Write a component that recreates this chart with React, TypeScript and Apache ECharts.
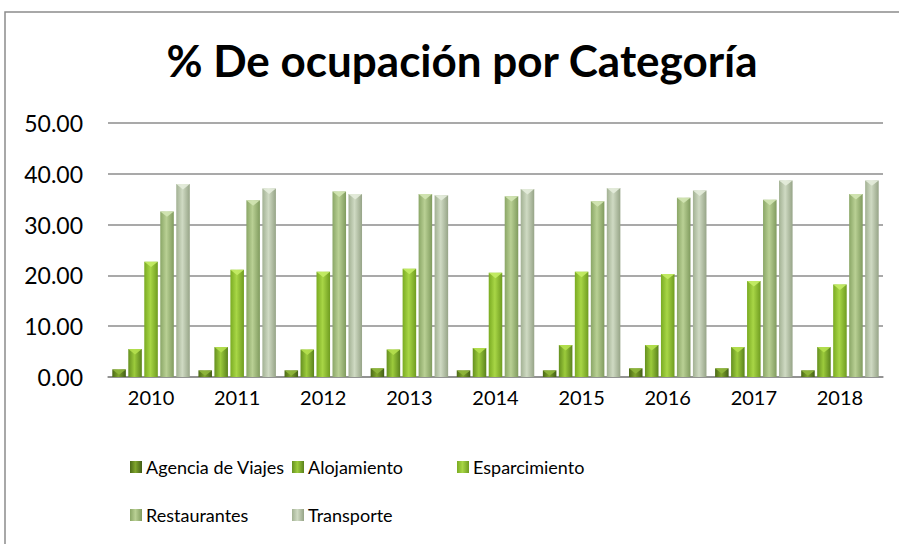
import React, { useEffect, useRef } from "react";
import * as echarts from "echarts";

const categories = ["2010", "2011", "2012", "2013", "2014", "2015", "2016", "2017", "2018"];
const seriesNames = ["Agencia de Viajes", "Alojamiento", "Esparcimiento", "Restaurantes", "Transporte"];
const agencia = [1.5, 1.3, 1.3, 1.7, 1.3, 1.3, 1.7, 1.7, 1.3];
const alojamiento = [5.5, 5.9, 5.4, 5.4, 5.7, 6.3, 6.3, 5.9, 5.9];
const esparcimiento = [22.7, 21.1, 20.7, 21.3, 20.5, 20.7, 20.3, 18.9, 18.2];
const restaurantes = [32.6, 34.8, 36.5, 36.0, 35.6, 34.6, 35.3, 34.9, 36.0];
const transporte = [38.0, 37.1, 36.0, 35.8, 37.0, 37.2, 36.7, 38.7, 38.7];
const seriesData = [agencia, alojamiento, esparcimiento, restaurantes, transporte];

const palette = [
  ["#4a6816", "#7fa52c", "#425e16"],
  ["#65901f", "#9ccb3c", "#5a821c"],
  ["#7aab22", "#a8d646", "#6f9c20"],
  ["#8aa666", "#b9d094", "#809b5e"],
  ["#a2b193", "#cfdac3", "#96a487"],
];
const capColors = ["#8fb63c", "#b5e04f", "#c4ec66", "#d3e6b4", "#e4ecdb"];

const FONT = "Lato, 'Open Sans', sans-serif";
const CAT_GAP = 0.1;
const BAR_GAP = 0.18;

function grad(c: string[]) {
  return new echarts.graphic.LinearGradient(0, 0, 1, 0, [
    { offset: 0, color: c[0] },
    { offset: 0.45, color: c[1] },
    { offset: 1, color: c[2] },
  ]);
}

const legendPos = [
  { left: 130, top: 455 },
  { left: 292, top: 455 },
  { left: 457, top: 455 },
  { left: 130, top: 503 },
  { left: 292, top: 503 },
];

export default function App() {
  const ref = useRef<HTMLDivElement>(null);
  useEffect(() => {
    if (!ref.current) return;
    const chart = echarts.init(ref.current, undefined, { renderer: "svg" });
    const n = seriesNames.length;
    const barSeries = seriesNames.map((name, i) => ({
      name,
      type: "bar",
      data: seriesData[i],
      barGap: BAR_GAP * 100 + "%",
      barCategoryGap: CAT_GAP * 100 + "%",
      itemStyle: { color: grad(palette[i]) },
      z: 2,
    }));
    const capSeries = seriesNames.map((name, i) => ({
      name: "cap-" + name,
      type: "custom",
      silent: true,
      z: 3,
      data: seriesData[i].map((v, k) => [k, v]),
      renderItem: (params: any, api: any) => {
        const idx = api.value(0);
        const v = api.value(1);
        const band = api.size([1, 0])[0];
        const usable = band * (1 - CAT_GAP);
        const w = usable / (n + (n - 1) * BAR_GAP);
        const top = api.coord([idx, v]);
        const x0 = top[0] - usable / 2 + i * w * (1 + BAR_GAP);
        const y = top[1];
        const h = Math.min(w * 0.4, Math.abs(api.coord([idx, 0])[1] - y));
        return {
          type: "polygon",
          shape: { points: [[x0, y], [x0 + w, y], [x0 + w / 2, y + h]] },
          style: { fill: capColors[i], opacity: 0.9 },
        };
      },
    }));
    chart.setOption({
      animation: false,
      backgroundColor: "#ffffff",
      title: {
        text: "% De ocupación por Categoría",
        left: 457,
        textAlign: "center",
        top: 33,
        textStyle: { fontFamily: FONT, fontWeight: "bold", fontSize: 44, color: "#000" },
      },
      graphic: [
        {
          type: "rect",
          shape: { x: 5, y: 12, width: 1000, height: 1000 },
          style: { fill: "none", stroke: "#8c8c8c", lineWidth: 1.5 },
          silent: true,
        },
      ],
      legend: seriesNames.map((nm, i) => ({
        data: [nm],
        left: legendPos[i].left,
        top: legendPos[i].top,
        padding: 0,
        itemWidth: 12,
        itemHeight: 12,
        itemGap: 0,
        icon: "rect",
        selectedMode: false,
        textStyle: { fontFamily: FONT, fontSize: 18, color: "#000", lineHeight: 24, padding: [0, 0, 0, -1] },
      })),
      grid: { left: 108, right: 16, top: 123, bottom: 167, containLabel: false },
      xAxis: {
        type: "category",
        data: categories,
        axisLine: { show: true, lineStyle: { color: "#8c8c8c", width: 1.5 } },
        axisTick: { show: false },
        axisLabel: { fontFamily: FONT, fontSize: 20, color: "#000", margin: 10 },
      },
      yAxis: {
        type: "value",
        min: 0,
        max: 50,
        interval: 10,
        axisLine: { show: false },
        axisTick: { show: false },
        splitLine: { lineStyle: { color: "#8c8c8c", width: 1.5 } },
        axisLabel: {
          fontFamily: FONT,
          fontSize: 23,
          color: "#000",
          margin: 25,
          formatter: (v: number) => v.toFixed(2),
        },
      },
      series: [...barSeries, ...capSeries],
    });
    return () => chart.dispose();
  }, []);
  return (
    <div
      ref={ref}
      style={{ position: "absolute", left: 0, top: 0, width: 899, height: 544 }}
    />
  );
}
